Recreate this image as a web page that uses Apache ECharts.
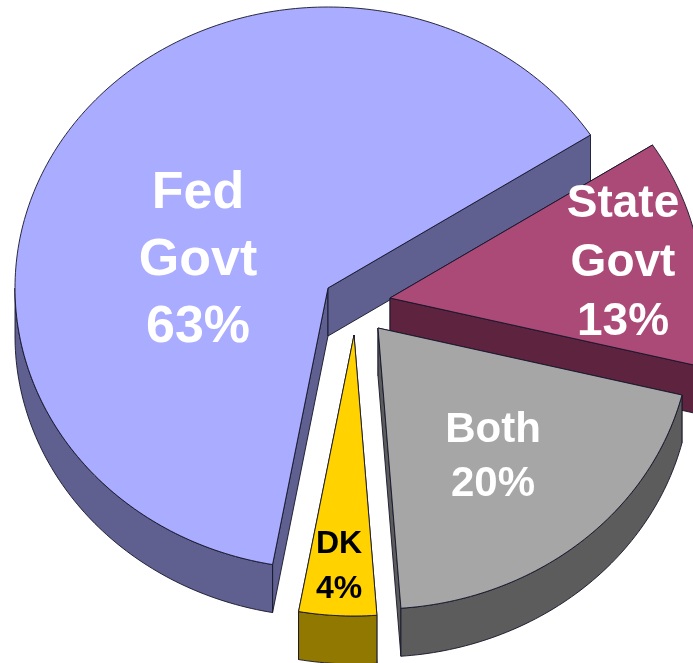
<!DOCTYPE html>
<html>
<head>
<meta charset="utf-8">
<style>html,body{margin:0;padding:0;background:#fff;overflow:hidden}#c{width:693px;height:663px}</style>
<script src="https://cdn.jsdelivr.net/npm/echarts@6/dist/echarts.min.js"></script>
</head>
<body>
<div id="c"></div>
<script>
// Data
var names = ['Fed\nGovt', 'State\nGovt', 'Both', 'DK'];
var values = [63, 13, 20, 4];

// Style
var topColors = ['#A9ACFF', '#AB4A76', '#A6A6A6', '#FFD200'];
var sideColors = ['#5F6090', '#5E243F', '#5C5C5C', '#917800'];
var textColors = ['#fff', '#fff', '#fff', '#000'];
var apexX = [328, 390, 378, 354];
var apexY = [288, 298, 328, 335];
var labelX = [198, 623, 493, 339];
var labelY = [261, 263, 457, 567];
var fontSizes = [52, 46, 42, 32];
var lineHeights = [67, 59, 54, 45];
var startAngle = 190.2, radiusX = 313, radiusY = 281, depth = 48;

var total = values.reduce(function (a, b) { return a + b; }, 0);

function rim(i, deg, dy) {
  var r = deg * Math.PI / 180;
  return [apexX[i] + radiusX * Math.sin(r), apexY[i] - radiusY * Math.cos(r) + dy];
}
function arc(i, a, b, dy) {
  var pts = [], n = Math.max(1, Math.ceil(Math.abs(b - a)));
  for (var k = 0; k <= n; k++) pts.push(rim(i, a + (b - a) * k / n, dy));
  return pts;
}
function poly(points, fill, z) {
  return {
    type: 'polygon', z2: z, shape: { points: points },
    style: { fill: fill, stroke: '#14142a', lineWidth: 0.9, lineJoin: 'round' }
  };
}

var chart = echarts.init(document.getElementById('c'), null, { renderer: 'canvas' });
chart.setOption({
  animation: false,
  backgroundColor: '#fff',
  series: [{
    type: 'custom',
    coordinateSystem: 'none',
    silent: true,
    clip: false,
    data: values.map(function (v, i) { return [v, i]; }),
    renderItem: function (params, api) {
      var i = api.value(1), before = 0;
      for (var j = 0; j < i; j++) before += values[j];
      var a0 = startAngle + before / total * 360;
      var a1 = a0 + api.value(0) / total * 360;
      var apex = [apexX[i], apexY[i]];
      var children = [];
      var ends = [a0, a1];
      // radial walls
      ends.forEach(function (a) {
        children.push(poly([apex, [apex[0], apex[1] + depth], rim(i, a, depth), rim(i, a, 0)], sideColors[i], 1));
      });
      // outer wall: only the part of the rim that faces the viewer (90..270, also +360)
      [[90, 270], [450, 630]].forEach(function (w) {
        var s = Math.max(a0, w[0]), e = Math.min(a1, w[1]);
        if (e > s) {
          children.push(poly(arc(i, s, e, 0).concat(arc(i, e, s, depth)), sideColors[i], 2));
        }
      });
      // top surface
      children.push(poly([apex].concat(arc(i, a0, a1, 0)), topColors[i], 3));
      // label
      children.push({
        type: 'text', z2: 10,
        style: {
          x: labelX[i], y: labelY[i],
          text: names[i] + '\n' + api.value(0) + '%',
          fill: textColors[i],
          font: 'bold ' + fontSizes[i] + 'px "Liberation Sans", Arial, sans-serif',
          lineHeight: lineHeights[i],
          align: 'center', verticalAlign: 'middle'
        }
      });
      return { type: 'group', children: children };
    }
  }]
});
</script>
</body>
</html>
